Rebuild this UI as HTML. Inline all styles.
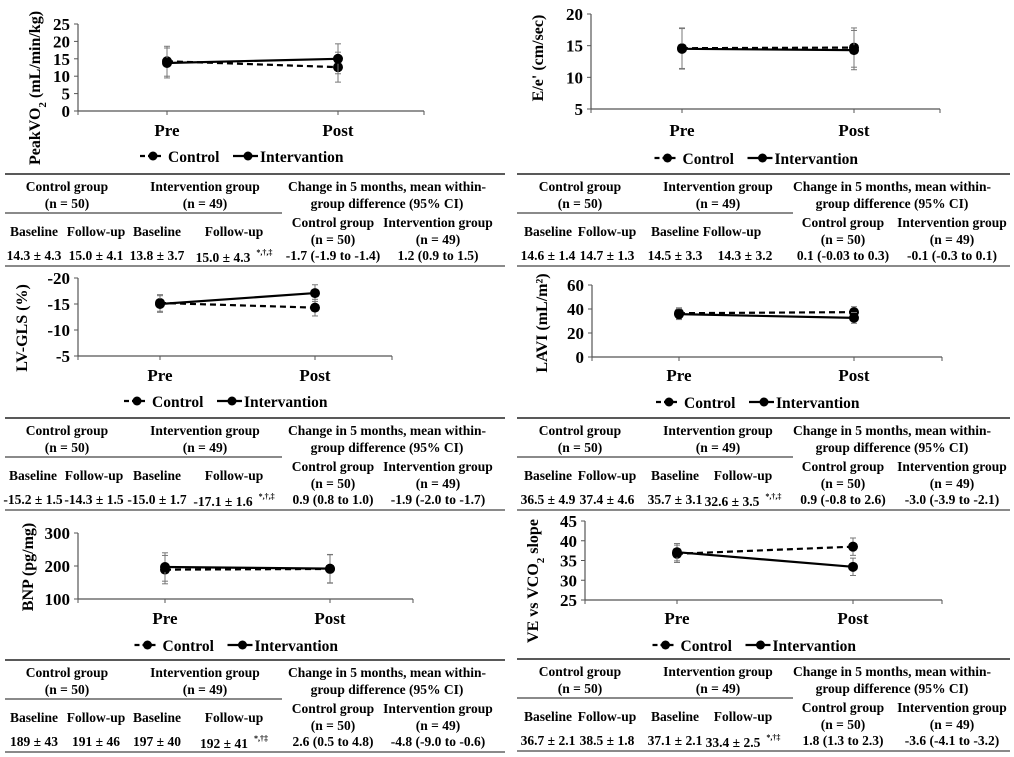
<!DOCTYPE html>
<html><head><meta charset="utf-8"><style>
html,body{margin:0;padding:0;background:#fff;}
svg{display:block;font-family:"Liberation Serif",serif;font-weight:bold;}
</style></head><body>
<svg id="fig" width="1014" height="757" viewBox="0 0 1014 757" xmlns="http://www.w3.org/2000/svg"></svg>
<script>
// ---- data ----
const timepoints = ["Pre", "Post"];
const peakControl = [14.3, 12.6];
const peakInterv = [13.8, 15.0];
const peakSD = [4.3, 4.3];
const eeControl = [14.6, 14.7];
const eeInterv = [14.5, 14.3];
const eeSD = [3.2, 3.1];
const glsControl = [-15.2, -14.3];
const glsInterv = [-15.0, -17.1];
const glsSD = [1.6, 1.6];
const laviControl = [36.5, 37.4];
const laviInterv = [35.7, 32.6];
const laviSD = [4.5, 4.5];
const bnpControl = [189, 191];
const bnpInterv = [197, 192];
const bnpSD = [43, 43];
const veControl = [36.7, 38.5];
const veInterv = [37.1, 33.4];
const veSD = [2.2, 2.2];
const peakTicks = [0, 5, 10, 15, 20, 25];
const eeTicks = [5, 10, 15, 20];
const glsTicks = [-5, -10, -15, -20];
const laviTicks = [0, 20, 40, 60];
const bnpTicks = [100, 200, 300];
const veTicks = [25, 30, 35, 40, 45];
const peakRow = ["14.3 ± 4.3", "15.0 ± 4.1", "13.8 ± 3.7", "15.0 ± 4.3", "-1.7 (-1.9 to -1.4)", "1.2 (0.9 to 1.5)"];
const eeRow = ["14.6 ± 1.4", "14.7 ± 1.3", "14.5 ± 3.3", "14.3 ± 3.2", "0.1 (-0.03 to 0.3)", "-0.1 (-0.3 to 0.1)"];
const glsRow = ["-15.2 ± 1.5", "-14.3 ± 1.5", "-15.0 ± 1.7", "-17.1 ± 1.6", "0.9 (0.8 to 1.0)", "-1.9 (-2.0 to -1.7)"];
const laviRow = ["36.5 ± 4.9", "37.4 ± 4.6", "35.7 ± 3.1", "32.6 ± 3.5", "0.9 (-0.8 to 2.6)", "-3.0 (-3.9 to -2.1)"];
const bnpRow = ["189 ± 43", "191 ± 46", "197 ± 40", "192 ± 41", "2.6 (0.5 to 4.8)", "-4.8 (-9.0 to -0.6)"];
const veRow = ["36.7 ± 2.1", "38.5 ± 1.8", "37.1 ± 2.1", "33.4 ± 2.5", "1.8 (1.3 to 2.3)", "-3.6 (-4.1 to -3.2)"];

const NS = "http://www.w3.org/2000/svg";
const svg = document.getElementById("fig");
function mk(tag, attrs, parent, text) {
  const e = document.createElementNS(NS, tag);
  for (const k in attrs) e.setAttribute(k, attrs[k]);
  if (text !== undefined) e.textContent = text;
  (parent || svg).appendChild(e);
  return e;
}

function panel(p) {
  const g = mk("g", {});
  
  
  const vmin = p.ticks[0], vmax = p.ticks[p.ticks.length - 1];
  const y = v => p.yb + (v - vmin) / (vmax - vmin) * (p.yt - p.yb);
  const xs = [p.pre, p.post];
  const ya = mk("line", {x1: p.ax, y1: p.yt, x2: p.ax, y2: p.yb, stroke: "#555", "stroke-width": 1.2}, g);
  
  
  const xa = mk("line", {x1: p.ax, y1: p.yb, x2: p.ae, y2: p.yb, stroke: "#555", "stroke-width": 1.2}, g);
  
  
  [p.ax, p.pre, p.post, p.ae].forEach(tx => {
    const t = mk("line", {x1: tx, y1: p.yb, x2: tx, y2: p.yb + 4, stroke: "#555", "stroke-width": 1}, g);
    
    
  });
  p.ticks.forEach(tv => {
    const t = mk("line", {x1: p.ax - 4, y1: y(tv), x2: p.ax, y2: y(tv), stroke: "#555", "stroke-width": 1}, g);
    
    
    const l = mk("text", {x: p.ax - 8, y: y(tv) + 6, "text-anchor": "end", "font-size": 17}, g, String(tv));
    
    
  });
  timepoints.forEach((tp, i) => {
    const l = mk("text", {x: xs[i], y: p.lab + 6, "text-anchor": "middle", "font-size": 17}, g, tp);
    
    
  });
  const yt = mk("text", {x: 0, y: 0, "text-anchor": "middle", "font-size": 16, transform: `translate(${p.tx + 5},${p.ty}) rotate(-90)`}, g);
  
  
  p.title.forEach(seg => {
    mk("tspan", seg.sub ? {"baseline-shift": "sub", "font-size": 11} : {}, yt, seg.t);
  });
  const series = [
    {name: "control", vals: p.c, dash: "6,4"},
    {name: "intervention", vals: p.i, dash: null}
  ];
  series.forEach(s => {
    s.vals.forEach((v, k) => {
      const sd = p.sd[k];
      const eb = mk("g", {stroke: "#777", "stroke-width": 1}, g);
      
      
      mk("line", {x1: xs[k], y1: y(v - sd), x2: xs[k], y2: y(v + sd)}, eb);
      mk("line", {x1: xs[k] - 3, y1: y(v - sd), x2: xs[k] + 3, y2: y(v - sd)}, eb);
      mk("line", {x1: xs[k] - 3, y1: y(v + sd), x2: xs[k] + 3, y2: y(v + sd)}, eb);
    });
    const attrs = {x1: xs[0], y1: y(s.vals[0]), x2: xs[1], y2: y(s.vals[1]), stroke: "#000", "stroke-width": 2.2};
    if (s.dash) attrs["stroke-dasharray"] = s.dash;
    const ln = mk("line", attrs, g);
    
    
    s.vals.forEach((v, k) => {
      const pt = mk("circle", {cx: xs[k], cy: y(v), r: 5, fill: "#000"}, g);
      
      
    });
  });
  const lc = (p.ax + p.ae) / 2 - 11;
  const lx = lc - 100, ly = p.leg;
  const lg = mk("g", {}, g);
  
  
  const le1 = mk("g", {}, lg);
  
  
  mk("line", {x1: lx, y1: ly, x2: lx + 23, y2: ly, stroke: "#000", "stroke-width": 2.2, "stroke-dasharray": "5,3"}, le1);
  mk("circle", {cx: lx + 13, cy: ly, r: 4.5, fill: "#000"}, le1);
  mk("text", {x: lx + 28, y: ly + 6, "font-size": 15.5}, le1, "Control");
  const le2 = mk("g", {}, lg);
  
  
  mk("line", {x1: lx + 93, y1: ly, x2: lx + 118, y2: ly, stroke: "#000", "stroke-width": 2.2}, le2);
  mk("circle", {cx: lx + 108, cy: ly, r: 4.5, fill: "#000"}, le2);
  mk("text", {x: lx + 120, y: ly + 6, "font-size": 15.5}, le2, "Intervantion");

  const T = p.T, L = p.tl, R = p.tr, cx = p.cols;
  const tb = mk("g", {"font-size": 13.5}, g);
  
  
  mk("line", {x1: L, y1: T, x2: R, y2: T, stroke: "#222", "stroke-width": 1.5}, tb);
  mk("line", {x1: L, y1: T + 39, x2: p.div, y2: T + 39, stroke: "#444", "stroke-width": 1.2}, tb);
  mk("line", {x1: L, y1: T + 92, x2: R, y2: T + 92, stroke: "#444", "stroke-width": 1.2}, tb);
  const txt = (x, yy, s, nm) => {
    const e = mk("text", {x: x, y: yy + 5, "text-anchor": "middle"}, tb, s);
    
    
    return e;
  };
  txt(p.h[0], T + 12, "Control group", "control-group-header");
  txt(p.h[0], T + 29, "(n = 50)", "control-n");
  txt(p.h[1], T + 12, "Intervention group", "intervention-group-header");
  txt(p.h[1], T + 29, "(n = 49)", "intervention-n");
  txt(p.h[2], T + 12, "Change in 5 months, mean within-", "change-header");
  txt(p.h[2], T + 29, "group difference (95% CI)", "change-header-2");
  ["Baseline", "Follow-up", "Baseline", "Follow-up"].forEach((s, k) => txt(cx[k], T + 57, s, "column-header"));
  txt(cx[4], T + 48, "Control group", "change-control-header");
  txt(cx[4], T + 65, "(n = 50)", "change-control-n");
  txt(cx[5], T + 48, "Intervention group", "change-intervention-header");
  txt(cx[5], T + 65, "(n = 49)", "change-intervention-n");
  p.row.forEach((s, k) => {
    const x = (k === 3 && p.fx) ? p.fx : cx[k];
    const e = txt(x, T + 81 + (k === 3 && p.sup ? 2 : 0), s, "table-value");
    if (k === 3 && p.sup) {
      mk("tspan", {"font-size": 8, dx: 6, dy: -7}, e, p.sup);
    }
  });
}

const Lcols = [34, 96, 157, 234, 333, 438];
panel({name: "peak-vo2", ticks: peakTicks, yt: 24, yb: 111, ax: 78, ae: 424, pre: 167, post: 338, lab: 130, leg: 156,
  tx: 35, ty: 88, title: [{t: "PeakVO"}, {t: "2", sub: true}, {t: " (mL/min/kg)"}], c: peakControl, i: peakInterv, sd: peakSD,
  T: 174, tl: 5, tr: 505, div: 282, cols: Lcols, h: [67, 205, 387], row: peakRow, sup: "*,†,‡"});
panel({name: "e-e-ratio", ticks: eeTicks, yt: 14, yb: 109, ax: 591, ae: 940, pre: 682, post: 854, lab: 130, leg: 158,
  tx: 538, ty: 58, title: [{t: "E/e' (cm/sec)"}], c: eeControl, i: eeInterv, sd: eeSD,
  T: 174, tl: 517, tr: 1010, div: 793, cols: [548, 607, 675, 732, 843, 952], h: [580, 718, 892], row: eeRow, sup: "", fx: 745});
panel({name: "lv-gls", ticks: glsTicks, yt: 278, yb: 356, ax: 78, ae: 392, pre: 160, post: 315, lab: 375, leg: 401,
  tx: 22, ty: 328, title: [{t: "LV-GLS (%)"}], c: glsControl, i: glsInterv, sd: glsSD,
  T: 418, tl: 5, tr: 505, div: 282, cols: [33, 94, 157, 234, 333, 438], h: [67, 205, 387], row: glsRow, sup: "*,†,‡"});
panel({name: "lavi", ticks: laviTicks, yt: 285, yb: 357, ax: 592, ae: 942, pre: 679, post: 854, lab: 375, leg: 402,
  tx: 542, ty: 323, title: [{t: "LAVI (mL/m²)"}], c: laviControl, i: laviInterv, sd: laviSD,
  T: 418, tl: 517, tr: 1010, div: 793, cols: [548, 607, 675, 743, 843, 952], h: [580, 718, 892], row: laviRow, sup: "*,†,‡"});
panel({name: "bnp", ticks: bnpTicks, yt: 533, yb: 599, ax: 78, ae: 413, pre: 165, post: 330, lab: 618, leg: 645,
  tx: 28, ty: 567, title: [{t: "BNP (pg/mg)"}], c: bnpControl, i: bnpInterv, sd: bnpSD,
  T: 660, tl: 5, tr: 505, div: 282, cols: Lcols, h: [67, 205, 387], row: bnpRow, sup: "*,†‡"});
panel({name: "ve-vco2", ticks: veTicks, yt: 521, yb: 600, ax: 585, ae: 942, pre: 677, post: 853, lab: 618, leg: 645,
  tx: 533, ty: 581, title: [{t: "VE vs VCO"}, {t: "2", sub: true}, {t: " slope"}], c: veControl, i: veInterv, sd: veSD,
  T: 659, tl: 517, tr: 1010, div: 793, cols: [548, 607, 675, 743, 843, 952], h: [580, 718, 892], row: veRow, sup: "*,†‡"});
</script>
</body></html>
